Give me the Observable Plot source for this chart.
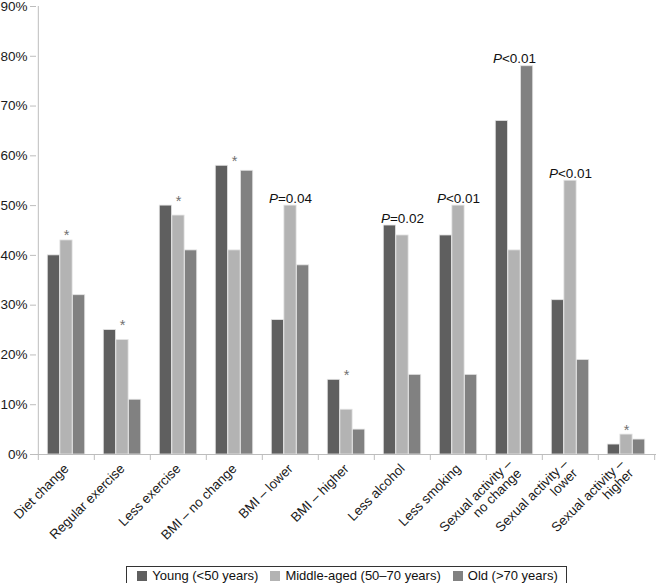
<!DOCTYPE html>
<html>
<head>
<meta charset="utf-8">
<script src="https://cdn.jsdelivr.net/npm/d3@7"></script>
<script src="https://cdn.jsdelivr.net/npm/@observablehq/plot@0.6"></script>
<style>
  html, body { margin: 0; padding: 0; background: #fff; }
  body { width: 658px; font-family: "Liberation Sans", Arial, sans-serif; }
  #legend { display: flex; justify-content: center; margin-top: 4px; margin-left: 35px; }
  #legend .box { display: flex; align-items: center; border: 1px solid #333; padding: 1px 8px 1px 10px; font-size: 13px; color: #111; gap: 12px; }
  #legend .item { display: flex; align-items: center; gap: 5px; }
  #legend .sw { width: 10px; height: 10px; display: inline-block; }
</style>
</head>
<body>
<div id="chart"></div>
<div id="legend"></div>
<script>
const categories = ["Diet change", "Regular exercise", "Less exercise", "BMI – no change", "BMI – lower", "BMI – higher", "Less alcohol", "Less smoking", "Sexual activity –\nno change", "Sexual activity –\nlower", "Sexual activity –\nhigher"];
const series = ["Young (<50 years)", "Middle-aged (50–70 years)", "Old (>70 years)"];
const young = [40, 25, 50, 58, 27, 15, 46, 44, 67, 31, 2];
const middle = [43, 23, 48, 41, 50, 9, 44, 50, 41, 55, 4];
const old = [32, 11, 41, 57, 38, 5, 16, 16, 78, 19, 3];
const notes = ["*", "*", "*", "*", "P=0.04", "*", "P=0.02", "P<0.01", "P<0.01", "P<0.01", "*"];
const yTicks = [0, 10, 20, 30, 40, 50, 60, 70, 80, 90];
const colors = ["#5f5f5f", "#b3b3b3", "#818181"];

const valuesBySeries = [young, middle, old];
const rows = [];
series.forEach((s, si) => categories.forEach((c, ci) => rows.push({category: c, series: s, si, value: valuesBySeries[si][ci]})));
const noteRows = categories.map((c, ci) => ({category: c, note: notes[ci], top: Math.max(young[ci], middle[ci], old[ci])}));

const W = 658, H = 562, mL = 36, mR = 2, mT = 6, mB = 108;
const bw = (W - mL - mR) / categories.length;
const barW = 12.6;
const inset = (bw - barW) / 2;
const axisColor = "#bdbdbd";

const plot = Plot.plot({
  width: W, height: H,
  marginLeft: mL, marginRight: mR, marginTop: mT, marginBottom: mB,
  style: {fontFamily: "'Liberation Sans', Arial, sans-serif", fontSize: "13px", color: "#1a1a1a", background: "#fff", overflow: "visible"},
  x: {type: "band", domain: categories, padding: 0, label: null},
  y: {domain: [0, 90], label: null},
  marks: [
    ...series.map((s, si) => Plot.barY(rows.filter(d => d.si === si), {
      x: "category", y: "value", fill: colors[si], stroke: "#e4e4e4", strokeWidth: 0.8,
      insetLeft: inset, insetRight: inset, dx: (si - 1) * barW
    })),
    Plot.ruleY([0], {stroke: axisColor}),
    Plot.ruleX([categories[0]], {x: d => d, y1: 0, y2: 90, dx: -bw / 2, stroke: axisColor}),
    Plot.axisY({ticks: yTicks, tickSize: 6, tickPadding: 3, tickFormat: d => d + "%", stroke: axisColor, fill: "#1a1a1a", fontSize: 13.5}),
    Plot.axisX({tickSize: 6, tickFormat: () => "", dx: -bw / 2, stroke: axisColor}),
    Plot.axisX({ticks: [categories[categories.length - 1]], tickSize: 6, tickFormat: () => "", dx: bw / 2, stroke: axisColor}),
    Plot.axisX({tickSize: 0, tickRotate: -45, tickPadding: 12, fontSize: 13.3, fill: "#1a1a1a"}),
    Plot.text(noteRows.filter(d => d.note === "*"), {x: "category", y: "top", text: "note", lineAnchor: "bottom", dy: 0, fontSize: 14.5, fill: "#707070"}),
    Plot.text(noteRows.filter(d => d.note !== "*"), {x: "category", y: "top", text: "note", lineAnchor: "bottom", dy: -3, fontSize: 13.5, fill: "#111", className: "pval"})
  ]
});
document.getElementById("chart").appendChild(plot);

// Italicise the leading "P" of each P-value annotation
plot.querySelectorAll("g.pval text").forEach(t => {
  const s = t.textContent;
  t.textContent = "";
  const p = document.createElementNS("http://www.w3.org/2000/svg", "tspan");
  p.setAttribute("font-style", "italic");
  p.textContent = s.slice(0, 1);
  t.appendChild(p);
  t.appendChild(document.createTextNode(s.slice(1)));
});

const legend = d3.select("#legend").append("div").attr("class", "box");
series.forEach((s, si) => {
  const it = legend.append("div").attr("class", "item");
  it.append("span").attr("class", "sw").style("background", colors[si]);
  it.append("span").text(s);
});
</script>
</body>
</html>
